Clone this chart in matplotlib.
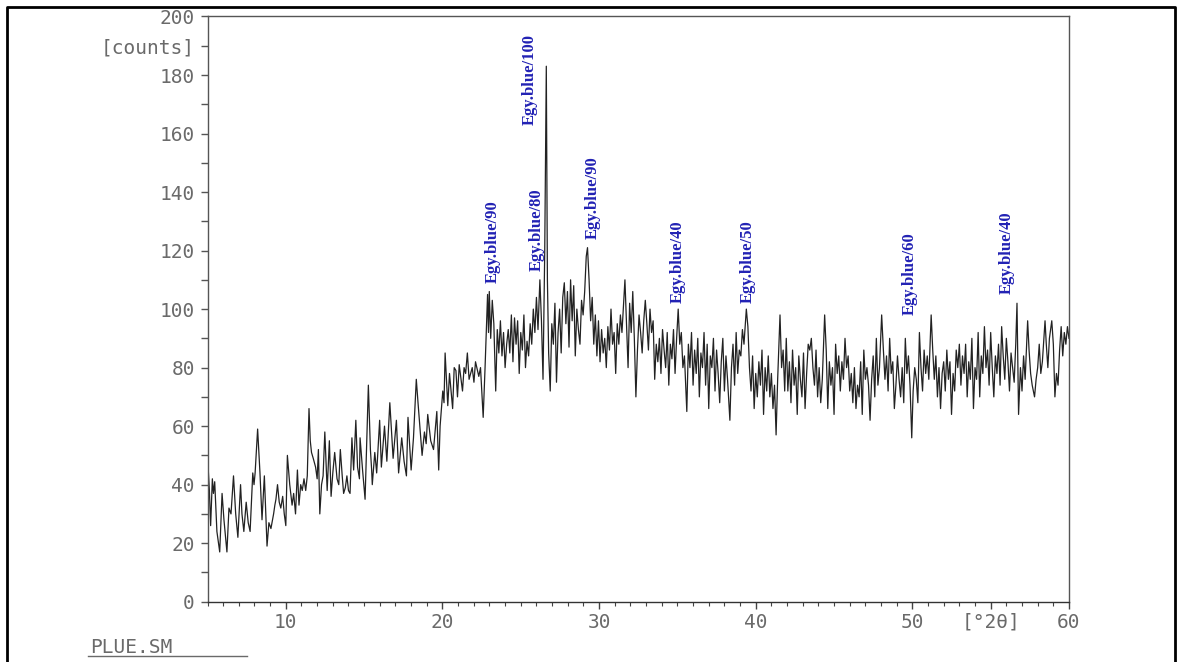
import matplotlib.pyplot as plt
from matplotlib.lines import Line2D
from matplotlib.ticker import MultipleLocator

# diffractogram vertices (2-theta, counts)
scan = [
    (5.00, 48), (5.03, 47), (5.12, 38), (5.20, 26), (5.31, 42), (5.38, 37), (5.46, 41), (5.60, 24),
    (5.70, 20), (5.78, 17), (5.93, 37), (6.05, 28), (6.15, 22), (6.24, 17), (6.37, 32), (6.50, 30),
    (6.66, 43), (6.80, 30), (6.94, 22), (7.11, 40), (7.20, 30), (7.32, 24), (7.47, 34), (7.60, 27),
    (7.72, 24), (7.89, 44), (7.97, 40), (8.04, 44), (8.20, 59), (8.35, 44), (8.48, 28), (8.63, 43),
    (8.80, 19), (8.92, 27), (9.05, 25), (9.22, 30), (9.30, 33), (9.37, 35), (9.47, 40), (9.58, 34),
    (9.68, 32), (9.80, 36), (9.90, 30), (10.00, 26), (10.10, 50), (10.25, 40), (10.40, 33), (10.50, 37),
    (10.62, 30), (10.74, 45), (10.84, 33), (10.95, 40), (11.05, 38), (11.16, 42), (11.27, 38), (11.37, 43),
    (11.48, 66), (11.56, 55), (11.64, 51), (11.75, 49), (11.90, 46), (12.00, 42), (12.08, 52), (12.17, 30),
    (12.28, 40), (12.38, 43), (12.49, 58), (12.64, 38), (12.78, 55), (12.89, 36), (13.00, 44), (13.12, 51),
    (13.27, 42), (13.38, 40), (13.48, 52), (13.60, 43), (13.69, 37), (13.80, 39), (13.90, 43), (14.00, 38),
    (14.10, 37), (14.22, 56), (14.33, 45), (14.47, 62), (14.58, 46), (14.70, 42), (14.74, 56), (14.90, 45),
    (15.06, 35), (15.27, 74), (15.40, 52), (15.48, 45), (15.52, 40), (15.68, 51), (15.80, 44), (15.99, 62),
    (16.10, 46), (16.30, 60), (16.45, 48), (16.64, 68), (16.85, 49), (17.06, 62), (17.20, 44), (17.40, 56),
    (17.55, 48), (17.70, 43), (17.80, 63), (18.00, 45), (18.15, 56), (18.33, 76), (18.44, 68), (18.60, 57),
    (18.70, 50), (18.85, 58), (18.96, 54), (19.06, 64), (19.25, 55), (19.43, 52), (19.64, 65), (19.76, 45),
    (19.85, 60), (20.02, 72), (20.10, 68), (20.17, 85), (20.34, 67), (20.45, 78), (20.65, 66), (20.75, 80),
    (20.86, 79), (20.96, 70), (21.07, 81), (21.28, 72), (21.38, 80), (21.48, 78), (21.59, 85), (21.70, 76),
    (21.90, 80), (22.01, 75), (22.11, 82), (22.32, 77), (22.43, 80), (22.60, 63), (22.72, 80), (22.88, 105),
    (22.94, 92), (22.99, 106), (23.08, 90), (23.18, 103), (23.28, 95), (23.40, 72), (23.50, 93), (23.60, 85),
    (23.70, 96), (23.80, 84), (23.90, 92), (24.00, 80), (24.10, 88), (24.20, 93), (24.30, 85), (24.40, 98),
    (24.50, 82), (24.60, 97), (24.70, 88), (24.80, 96), (24.90, 78), (25.00, 92), (25.10, 86), (25.20, 98),
    (25.30, 80), (25.40, 89), (25.50, 84), (25.60, 95), (25.70, 88), (25.80, 100), (25.90, 92), (26.00, 104),
    (26.10, 93), (26.22, 110), (26.32, 96), (26.42, 76), (26.53, 120), (26.63, 183), (26.70, 110), (26.78, 85),
    (26.88, 72), (26.98, 95), (27.08, 88), (27.18, 102), (27.28, 75), (27.38, 92), (27.48, 100), (27.58, 85),
    (27.68, 104), (27.78, 109), (27.88, 95), (27.98, 106), (28.08, 87), (28.18, 110), (28.28, 96), (28.38, 108),
    (28.48, 84), (28.58, 100), (28.68, 93), (28.78, 88), (28.88, 103), (28.98, 98), (29.08, 106), (29.18, 118),
    (29.26, 121), (29.36, 110), (29.46, 96), (29.56, 104), (29.66, 88), (29.76, 98), (29.86, 84), (29.96, 96),
    (30.06, 82), (30.16, 93), (30.26, 85), (30.36, 90), (30.46, 80), (30.56, 94), (30.66, 86), (30.76, 100),
    (30.86, 88), (30.96, 92), (31.06, 78), (31.16, 95), (31.26, 88), (31.36, 98), (31.46, 92), (31.65, 110),
    (31.75, 95), (31.85, 80), (31.95, 102), (32.05, 92), (32.15, 106), (32.25, 90), (32.35, 70), (32.45, 86),
    (32.55, 98), (32.65, 92), (32.75, 85), (32.85, 96), (32.95, 103), (33.05, 95), (33.15, 86), (33.25, 100),
    (33.35, 92), (33.45, 96), (33.55, 76), (33.65, 88), (33.75, 82), (33.85, 90), (33.95, 78), (34.05, 93),
    (34.15, 86), (34.25, 80), (34.35, 92), (34.45, 74), (34.55, 88), (34.65, 83), (34.75, 93), (34.85, 78),
    (34.95, 90), (35.05, 100), (35.15, 88), (35.25, 92), (35.35, 80), (35.45, 84), (35.60, 65), (35.70, 88),
    (35.80, 80), (35.90, 92), (36.00, 74), (36.10, 86), (36.20, 78), (36.30, 90), (36.40, 70), (36.50, 85),
    (36.60, 80), (36.70, 92), (36.80, 74), (36.90, 88), (37.00, 66), (37.10, 84), (37.20, 80), (37.30, 90),
    (37.40, 72), (37.50, 86), (37.60, 78), (37.70, 68), (37.80, 82), (37.90, 90), (38.00, 72), (38.10, 84),
    (38.20, 76), (38.35, 62), (38.45, 80), (38.55, 88), (38.65, 74), (38.75, 92), (38.85, 78), (38.95, 86),
    (39.05, 84), (39.15, 93), (39.25, 88), (39.40, 100), (39.50, 94), (39.60, 80), (39.70, 72), (39.80, 84),
    (39.90, 66), (40.00, 78), (40.10, 70), (40.20, 82), (40.30, 74), (40.40, 86), (40.50, 64), (40.60, 80),
    (40.70, 72), (40.80, 84), (40.90, 70), (41.00, 78), (41.10, 66), (41.20, 74), (41.30, 57), (41.40, 76),
    (41.55, 98), (41.65, 80), (41.75, 86), (41.85, 72), (41.95, 90), (42.05, 72), (42.15, 82), (42.25, 68),
    (42.35, 86), (42.45, 74), (42.55, 80), (42.65, 64), (42.75, 84), (42.85, 76), (42.95, 70), (43.05, 85),
    (43.15, 66), (43.25, 78), (43.35, 88), (43.45, 86), (43.55, 90), (43.65, 80), (43.75, 74), (43.85, 86),
    (43.95, 70), (44.05, 80), (44.15, 68), (44.25, 76), (44.40, 98), (44.50, 86), (44.60, 66), (44.70, 82),
    (44.80, 74), (44.90, 80), (45.00, 64), (45.10, 88), (45.20, 78), (45.30, 84), (45.40, 72), (45.50, 82),
    (45.60, 76), (45.70, 90), (45.80, 80), (45.90, 84), (46.00, 72), (46.10, 78), (46.20, 68), (46.30, 80),
    (46.40, 66), (46.50, 74), (46.60, 70), (46.70, 82), (46.80, 64), (46.90, 86), (47.00, 76), (47.10, 80),
    (47.20, 74), (47.30, 62), (47.40, 76), (47.50, 84), (47.60, 70), (47.70, 90), (47.80, 74), (47.90, 80),
    (48.04, 98), (48.15, 86), (48.25, 76), (48.35, 84), (48.45, 72), (48.55, 90), (48.65, 78), (48.75, 82),
    (48.85, 66), (48.95, 74), (49.05, 84), (49.15, 76), (49.25, 70), (49.35, 80), (49.45, 68), (49.55, 90),
    (49.65, 78), (49.75, 84), (49.85, 74), (49.96, 56), (50.05, 72), (50.15, 80), (50.25, 76), (50.35, 68),
    (50.45, 92), (50.55, 80), (50.65, 72), (50.75, 86), (50.85, 78), (50.95, 84), (51.05, 76), (51.20, 98),
    (51.30, 86), (51.40, 76), (51.50, 84), (51.60, 70), (51.70, 80), (51.80, 66), (51.90, 78), (52.00, 82),
    (52.10, 72), (52.20, 86), (52.30, 76), (52.40, 82), (52.50, 64), (52.60, 78), (52.70, 72), (52.80, 86),
    (52.90, 80), (53.00, 88), (53.10, 74), (53.20, 84), (53.30, 78), (53.40, 88), (53.50, 70), (53.60, 82),
    (53.70, 76), (53.80, 90), (53.90, 66), (54.00, 80), (54.10, 76), (54.20, 92), (54.30, 70), (54.40, 84),
    (54.50, 78), (54.60, 94), (54.70, 80), (54.80, 86), (54.90, 74), (55.00, 92), (55.10, 80), (55.20, 70),
    (55.30, 84), (55.40, 78), (55.50, 88), (55.60, 74), (55.70, 94), (55.80, 84), (55.90, 76), (56.00, 90),
    (56.10, 82), (56.20, 72), (56.30, 85), (56.40, 80), (56.50, 75), (56.60, 88), (56.68, 102), (56.78, 64),
    (56.90, 80), (57.00, 72), (57.10, 84), (57.20, 76), (57.36, 96), (57.45, 86), (57.55, 78), (57.65, 74),
    (57.80, 70), (57.90, 76), (58.00, 80), (58.10, 88), (58.20, 78), (58.30, 82), (58.47, 96), (58.55, 88),
    (58.65, 80), (58.75, 90), (58.90, 96), (59.00, 88), (59.10, 70), (59.20, 78), (59.30, 74), (59.40, 86),
    (59.50, 94), (59.60, 84), (59.70, 92), (59.80, 88), (59.90, 94), (60.00, 90),
]
two_theta = [p[0] for p in scan]
counts = [p[1] for p in scan]

# phase identification marks
peak_pos = [23.24, 25.6, 26.03, 29.58, 35.0, 39.46, 49.85, 56.04]
peak_top = [109, 163, 113, 124, 102, 102, 98, 105]
peak_names = ["Egy.blue/90", "Egy.blue/100", "Egy.blue/80", "Egy.blue/90",
              "Egy.blue/40", "Egy.blue/50", "Egy.blue/60", "Egy.blue/40"]

y_ticks = list(range(0, 201, 10))
y_labels = [str(v) if v % 20 == 0 else "" for v in y_ticks]
y_labels[19] = "[counts]"
x_ticks = [10, 20, 30, 40, 50, 55, 60]
x_labels = ["10", "20", "30", "40", "50", "[\u00b02\u03b8]", "60"]

axis_grey = "#6a6a6a"
label_font = {"family": "DejaVu Sans Mono", "size": 14, "color": axis_grey}

fig = plt.figure(figsize=(11.81, 6.62), dpi=100)
ax = fig.add_axes([207.5 / 1181, 0.0911, 861.5 / 1181, 0.884])

ax.plot(two_theta, counts, color="#222222", lw=0.9)

ax.set_xlim(5, 60)
ax.set_ylim(0, 200)
ax.set_xticks(x_ticks)
ax.set_xticklabels(x_labels, fontdict=label_font)
ax.xaxis.set_minor_locator(MultipleLocator(1))
ax.set_yticks(y_ticks)
ax.set_yticklabels(y_labels, fontdict=label_font)
ax.tick_params(axis="x", which="major", length=5, width=1, color="#444444", pad=3)
ax.tick_params(axis="x", which="minor", length=3, width=0.8, color="#444444")
ax.tick_params(axis="y", which="major", length=5, width=1, color="#555555", pad=4)
for s in ax.spines.values():
    s.set_color("#555555")
    s.set_linewidth(1.0)
ax.spines["bottom"].set_color("#333333")

for x, y, name in zip(peak_pos, peak_top, peak_names):
    ax.text(x, y, name, rotation=90, ha="center", va="bottom",
            family="Liberation Serif", weight="bold", size=12, color="#2222b4")

# sample file name, underlined
fig.text(90 / 1181, 1 - 653 / 662, "PLUE.SM", fontdict=label_font, va="baseline")
fig.add_artist(Line2D([88 / 1181, 247 / 1181], [1 - 656 / 662] * 2, color=axis_grey, lw=1))

# page frame
fx0, fx1, fy1 = 7 / 1181, 1175 / 1181, 1 - 7 / 662
fig.add_artist(Line2D([fx0, fx0, fx1, fx1], [0, fy1, fy1, 0], color="black", lw=2))

fig.savefig("out.png", dpi=100)
